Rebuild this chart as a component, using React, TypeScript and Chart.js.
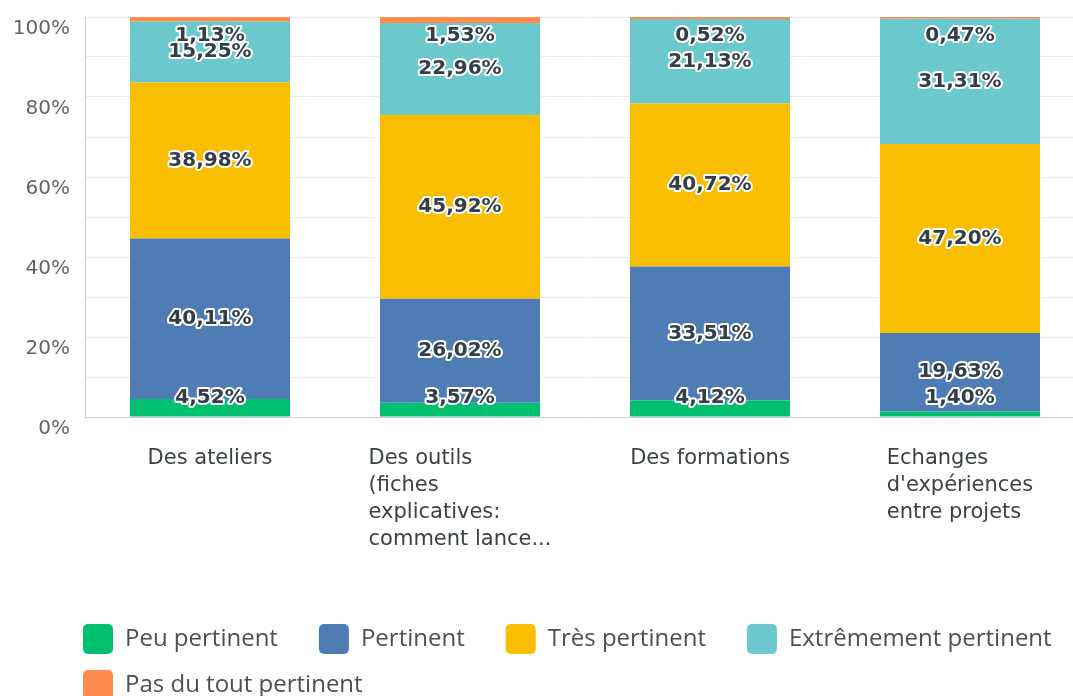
import React, { useEffect, useRef } from "react";
import { Chart, registerables } from "chart.js";

Chart.register(...registerables);

const categories: string[][] = [
  ["Des ateliers"],
  ["Des outils", "(fiches", "explicatives:", "comment lance..."],
  ["Des formations"],
  ["Echanges", "d'expériences", "entre projets"],
];

const seriesNames = [
  "Peu pertinent",
  "Pertinent",
  "Très pertinent",
  "Extrêmement pertinent",
  "Pas du tout pertinent",
];
const seriesColors = ["#00bf6f", "#507cb6", "#f9be00", "#6bc8cd", "#ff8b4f"];

const peuPertinent = [4.52, 3.57, 4.12, 1.4];
const pertinent = [40.11, 26.02, 33.51, 19.63];
const tresPertinent = [38.98, 45.92, 40.72, 47.2];
const extremementPertinent = [15.25, 22.96, 21.13, 31.31];
const pasDuToutPertinent = [1.13, 1.53, 0.52, 0.47];

const seriesValues = [
  peuPertinent,
  pertinent,
  tresPertinent,
  extremementPertinent,
  pasDuToutPertinent,
];

const yTickValues = [0, 20, 40, 60, 80, 100];

const WIDE = "'DejaVu Sans', 'Open Sans', sans-serif";
const LEG = "'Open Sans', 'DejaVu Sans', sans-serif";

const fmt = (v: number) => v.toFixed(2).replace(".", ",") + "%";

const valueLabels = {
  id: "valueLabels",
  afterDatasetsDraw(chart: any) {
    const ctx = chart.ctx;
    const area = chart.chartArea;
    ctx.save();
    ctx.font = `bold 20px ${WIDE}`;
    ctx.textAlign = "center";
    ctx.textBaseline = "middle";
    ctx.lineJoin = "round";
    chart.data.datasets.forEach((ds: any, i: number) => {
      const meta = chart.getDatasetMeta(i);
      meta.data.forEach((bar: any, j: number) => {
        const v = ds.data[j];
        let y = (bar.y + bar.base) / 2;
        y = Math.max(area.top + 19, Math.min(area.bottom - 19, y));
        const t = fmt(v);
        ctx.lineWidth = 4;
        ctx.strokeStyle = "#ffffff";
        ctx.strokeText(t, bar.x, y);
        ctx.fillStyle = "#333e48";
        ctx.fillText(t, bar.x, y);
      });
    });
    ctx.restore();
  },
};

const xLabels = {
  id: "xLabels",
  afterDraw(chart: any) {
    const ctx = chart.ctx;
    const area = chart.chartArea;
    const xs = chart.scales.x;
    ctx.save();
    ctx.font = `21px ${WIDE}`;
    ctx.fillStyle = "#3b4245";
    ctx.textAlign = "left";
    ctx.textBaseline = "middle";
    categories.forEach((lines, i) => {
      const cx = xs.getPixelForValue(i);
      const w = Math.max(...lines.map((l) => ctx.measureText(l).width));
      lines.forEach((l, k) => {
        ctx.fillText(l, cx - w / 2, area.bottom + 42 + k * 27);
      });
    });
    ctx.restore();
  },
};

const legendPlugin = {
  id: "customLegend",
  afterDraw(chart: any) {
    const ctx = chart.ctx;
    const area = chart.chartArea;
    ctx.save();
    ctx.font = `24px ${LEG}`;
    ctx.textBaseline = "middle";
    ctx.textAlign = "left";
    const startX = area.left - 2;
    let x = startX;
    let y = area.bottom + 222;
    const maxX = 1068;
    seriesNames.forEach((name, i) => {
      const tw = ctx.measureText(name).width;
      const itemW = 30 + 12 + tw;
      if (x + itemW > maxX) {
        x = startX;
        y += 46;
      }
      ctx.fillStyle = seriesColors[i];
      ctx.beginPath();
      (ctx as any).roundRect(x, y - 15, 30, 30, 5);
      ctx.fill();
      ctx.fillStyle = "#4a5055";
      ctx.fillText(name, x + 42, y);
      x += itemW + 41;
    });
    ctx.restore();
  },
};

export default function App() {
  const ref = useRef<HTMLCanvasElement>(null);
  useEffect(() => {
    document.body.style.margin = "0";
    const chart = new Chart(ref.current!, {
      type: "bar",
      data: {
        labels: categories.map((c) => c.join(" ")),
        datasets: seriesNames.map((name, i) => ({
          label: name,
          data: seriesValues[i],
          backgroundColor: seriesColors[i],
          borderWidth: 0,
          categoryPercentage: 1,
          barPercentage: 0.64,
        })),
      },
      options: {
        animation: false,
        responsive: false,
        maintainAspectRatio: false,
        layout: { padding: { top: 17, right: 15, bottom: 279, left: 0 } },
        plugins: { legend: { display: false }, tooltip: { enabled: false } },
        scales: {
          x: {
            stacked: true,
            grid: { display: false, drawTicks: false },
            border: { display: true, color: "#cccccc", width: 1 },
            ticks: { display: false },
          },
          y: {
            stacked: true,
            min: 0,
            max: 100,
            afterFit: (s: any) => {
              s.width = 85;
              s.paddingTop = 0;
              s.paddingBottom = 0;
            },
            grid: { color: "#ececec", drawTicks: false },
            border: { display: true, color: "#cccccc", width: 1 },
            ticks: {
              stepSize: 10,
              padding: 15,
              labelOffset: 12,
              color: "#5f666b",
              font: { size: 20, family: WIDE },
              callback: (v: any) =>
                yTickValues.includes(Number(v)) ? v + "%" : "",
            },
          },
        },
      },
      plugins: [valueLabels, xLabels, legendPlugin],
    });
    return () => chart.destroy();
  }, []);
  return (
    <div
      style={{
        position: "fixed",
        left: 0,
        top: 0,
        width: 1073,
        height: 696,
        overflow: "hidden",
        background: "#fff",
      }}
    >
      <canvas ref={ref} width={1100} height={696} style={{ width: 1100, height: 696 }} />
    </div>
  );
}
